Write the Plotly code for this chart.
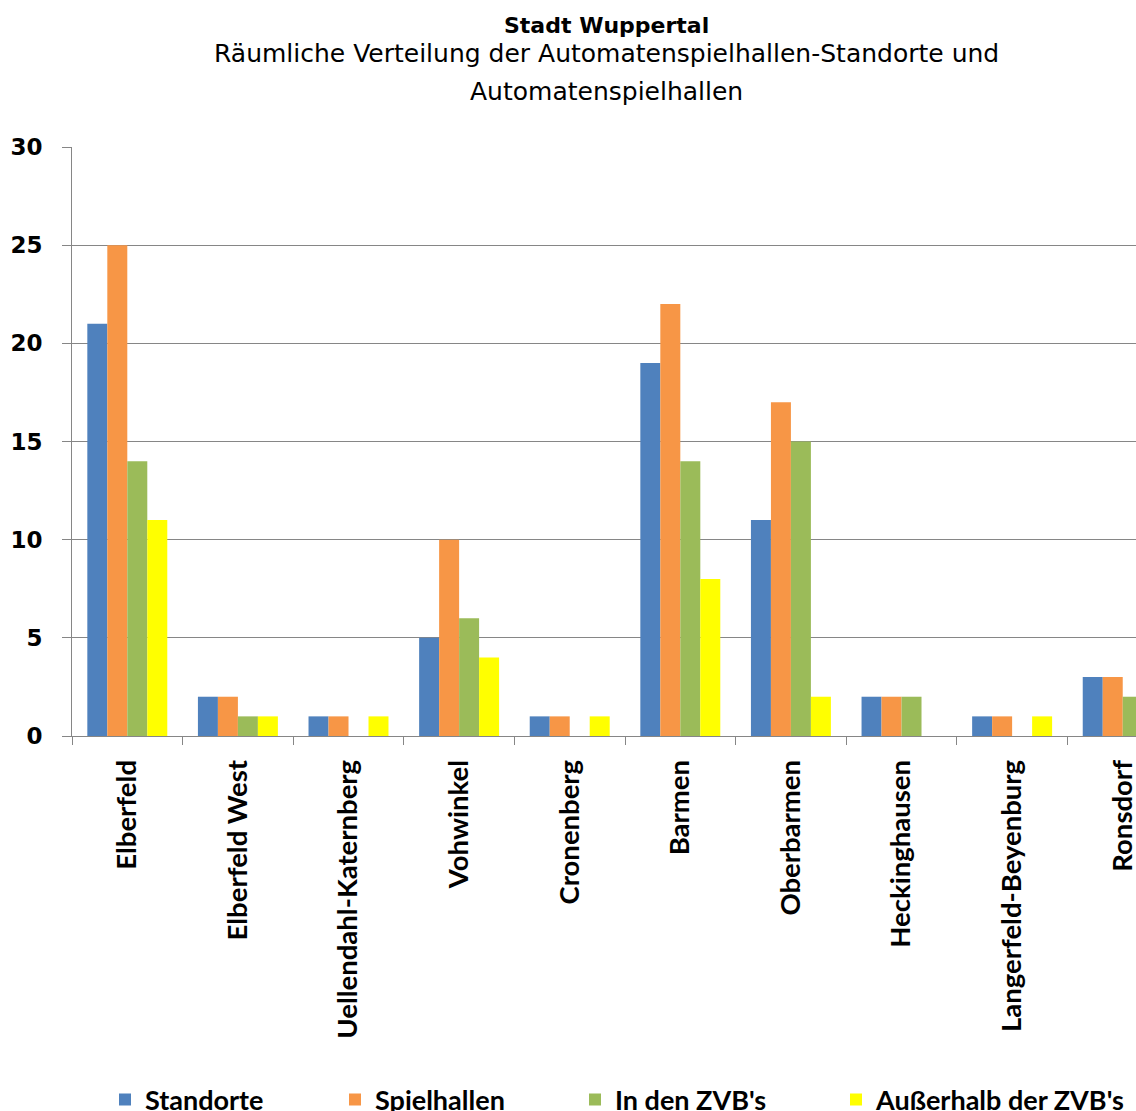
import plotly.graph_objects as go

categories = ["Elberfeld", "Elberfeld West", "Uellendahl-Katernberg", "Vohwinkel",
              "Cronenberg", "Barmen", "Oberbarmen", "Heckinghausen",
              "Langerfeld-Beyenburg", "Ronsdorf"]
standorte = [21, 2, 1, 5, 1, 19, 11, 2, 1, 3]
spielhallen = [25, 2, 1, 10, 1, 22, 17, 2, 1, 3]
in_zvb = [14, 1, 0, 6, 0, 14, 15, 2, 0, 2]
ausserhalb_zvb = [11, 1, 1, 4, 1, 8, 2, 0, 1, 1]

series = [
    ("Standorte", standorte, "#4F81BD"),
    ("Spielhallen", spielhallen, "#F79646"),
    ("In den ZVB's", in_zvb, "#9BBB59"),
    ("Außerhalb der ZVB's", ausserhalb_zvb, "#FFFF00"),
]

W, H = 1136, 1111
L, T, B = 72, 147, 375
plot_h = H - T - B
cx = (606 - L) / (W - L)

def py(p):
    return (H - B - p) / plot_h

legend_ids = ["legend", "legend2", "legend3", "legend4"]
legend_x = [105, 335, 575, 836]

fig = go.Figure()
for (name, vals, col), lid in zip(series, legend_ids):
    fig.add_trace(go.Bar(x=categories, y=vals, name=name, legend=lid, showlegend=True,
                         marker=dict(color=col, line=dict(width=0))))

legend_style = dict(orientation="h", xref="container", xanchor="left",
                    y=1 - 1100 / H, yref="container", yanchor="middle",
                    font=dict(family="Lato", size=27, weight="bold", color="black"),
                    itemwidth=30, bgcolor="rgba(0,0,0,0)", visible=True)

fig.update_layout(
    width=W, height=H, showlegend=True,
    margin=dict(l=L, r=0, t=T, b=B, autoexpand=False),
    plot_bgcolor="white", paper_bgcolor="white",
    barmode="group", bargap=0.277, bargroupgap=0,
    font=dict(family="Lato", color="black"),
    annotations=[
        dict(text="<b>Stadt Wuppertal</b>", x=cx, xref="paper",
             y=py(26), yref="paper", showarrow=False, xanchor="center", yanchor="middle",
             font=dict(family="DejaVu Sans", size=22, color="black")),
        dict(text="Räumliche Verteilung der Automatenspielhallen-Standorte und",
             x=cx, xref="paper", y=py(54), yref="paper", showarrow=False,
             xanchor="center", yanchor="middle",
             font=dict(family="DejaVu Sans", size=25, color="black")),
        dict(text="Automatenspielhallen",
             x=cx, xref="paper", y=py(91), yref="paper", showarrow=False,
             xanchor="center", yanchor="middle",
             font=dict(family="DejaVu Sans", size=25, color="black")),
    ],
)
for lid, lx in zip(legend_ids, legend_x):
    fig.update_layout({lid: dict(legend_style, x=lx / W)})

fig.update_xaxes(
    range=[-0.5, 9.12], type="category", automargin=False,
    showline=True, linecolor="#868686", linewidth=1,
    ticks="outside", tickson="boundaries", ticklen=8, tickcolor="#868686",
    tickangle=-90, tickfont=dict(family="Lato", size=27.5, weight="bold", color="black"),
    ticklabelstandoff=12,
    showgrid=False,
)
fig.update_yaxes(
    range=[0, 30], dtick=5, tick0=0, automargin=False,
    showline=True, linecolor="#868686", linewidth=1,
    ticks="outside", ticklen=9, tickcolor="#868686",
    showgrid=True, gridcolor="#868686", gridwidth=1,
    zeroline=False,
    tickfont=dict(family="DejaVu Sans", size=23, weight="bold", color="black"),
    ticklabelstandoff=15,
)

fig.write_html("out.html")
